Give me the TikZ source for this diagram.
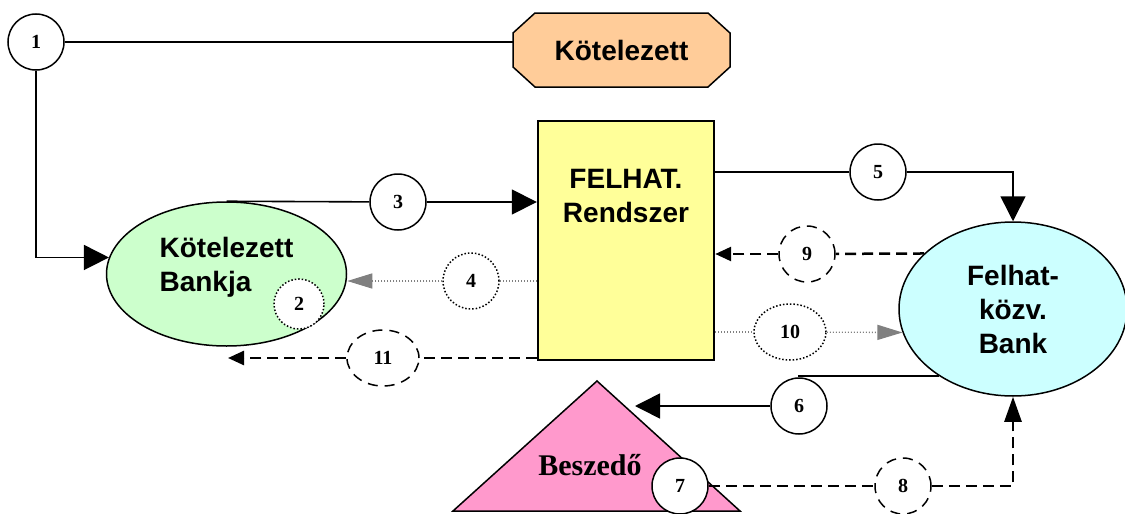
\documentclass[tikz,border=0pt]{standalone}
\usepackage{fontspec}
\setmainfont{Liberation Serif}
\newfontfamily\arialfont{Liberation Sans}
\usetikzlibrary{arrows.meta,shapes.geometric}

\definecolor{peach}{HTML}{FFCC99}
\definecolor{mint}{HTML}{CCFFCC}
\definecolor{aqua}{HTML}{CCFFFF}
\definecolor{lemon}{HTML}{FFFF99}
\definecolor{rose}{HTML}{FF99CC}
\definecolor{dotgray}{HTML}{808080}

\newcommand{\boxfont}{\arialfont\bfseries\fontsize{28}{34}\selectfont}
\newcommand{\numfont}{\bfseries\fontsize{20}{24}\selectfont}

\tikzstyle{num}=[circle, draw, fill=white, line width=1.5pt,
                 minimum size=56pt, inner sep=0pt, font=\numfont]
\tikzstyle{num dot}=[num, dash pattern=on 1.5pt off 2pt]
\tikzstyle{num dash}=[num, dash pattern=on 10pt off 7pt]
\tikzstyle{num wide}=[ellipse, minimum width=72pt, minimum height=56pt]
\tikzstyle{edge}=[line width=1.6pt,
                  >={Triangle[length=25pt,width=25pt]}]
\tikzstyle{dash edge}=[line width=2.5pt, dash pattern=on 11pt off 6pt,
                       >={Triangle[length=16pt,width=14pt]}]
\tikzstyle{dot edge}=[line width=1.3pt, dotgray, dash pattern=on 1pt off 2pt,
                      >={Triangle[length=25pt,width=15pt]}]
\tikzstyle{party}=[draw, line width=1.5pt, inner sep=0pt]

\begin{document}
\begin{tikzpicture}[x=1pt,y=-1pt]
   \useasboundingbox (0,0) rectangle (1125,514);

   % parties
   \draw [party, fill=peach] (513,33) -- (535,13) -- (708,13) -- (730,33)
         -- (730,67) -- (708,87) -- (535,87) -- (513,67) -- cycle;
   \node (obl) at (621.5,50) [minimum width=217pt, minimum height=74pt,
         font=\boxfont] {Kötelezett};
   \node (kbank) at (226.5,274) [party, ellipse, fill=mint,
         minimum width=240pt, minimum height=144pt,
         label={[yshift=7pt, font=\boxfont, align=left]center:{Kötelezett\\Bankja}}] {};
   \node (sys) at (626,240.5) [party, line width=2.4pt, fill=lemon,
         minimum width=176pt, minimum height=239pt,
         label={[anchor=north, yshift=-49pt, inner sep=0pt, font=\boxfont,
                 align=center]north:{FELHAT.\\Rendszer}}] {};
   \node (fbank) at (1013,309) [party, ellipse, fill=aqua,
         minimum width=228pt, minimum height=174pt,
         font=\boxfont, align=center] {Felhat-\\közv.\\Bank};
   \draw [party, fill=rose] (597,381) -- (740,511) -- (453,511) -- cycle;
   \node (besz) at (590,465) [font=\bfseries\fontsize{30}{36}\selectfont] {Beszedő};
   \coordinate (tip6) at (635,406);
   \coordinate (e11) at (228,358);

   % steps
   \foreach \n/\x/\y in {1/36/42, 3/398/202, 5/878/172, 6/799/406, 7/680/486}
     \node (c\n) at (\x,\y) [num] {\n};
   \node (c2) at (299,304) [num dot, minimum size=50pt] {2};
   \node (c4) at (471,281) [num dot] {4};
   \node (c10) at (790,332) [num dot, num wide] {10};
   \node (c8) at (903,486) [num dash] {8};
   \node (c9) at (807,254) [num dash] {9};
   \node (c11) at (383,358) [num dash, num wide] {11};

   % flows
   \draw [edge] (c1) -- (c1 -| obl.west);
   \draw [edge, ->] (c1) |- (kbank.172);
   \draw [edge] (kbank.north) -- (c3);
   \draw [edge, ->] (c3) -- (c3 -| sys.west);
   \draw [dot edge] (c4 -| sys.west) -- (c4);
   \draw [dot edge, ->] (c4) -- (c4 -| kbank.east);
   \draw [edge] (c5 -| sys.east) -- (c5);
   \draw [edge, ->] (c5) -| (fbank.north);
   \draw [edge] (fbank.222) -| (c6);
   \draw [edge, ->] (c6) -- (tip6);
   \draw [dash edge] (c7) -- (c8);
   \draw [dash edge, ->, >={Triangle[length=25pt,width=17pt]}] (c8) -| (fbank.south);
   \draw [dash edge] (fbank.148) -- (c9);
   \draw [dash edge, ->] (c9) -- (c9 -| sys.east);
   \draw [dot edge] (c10 -| sys.east) -- (c10);
   \draw [dot edge, ->] (c10) -- (fbank.192);
   \draw [dash edge] (c11 -| sys.west) -- (c11);
   \draw [dash edge, ->] (c11) -- (e11);
\end{tikzpicture}
\end{document}
